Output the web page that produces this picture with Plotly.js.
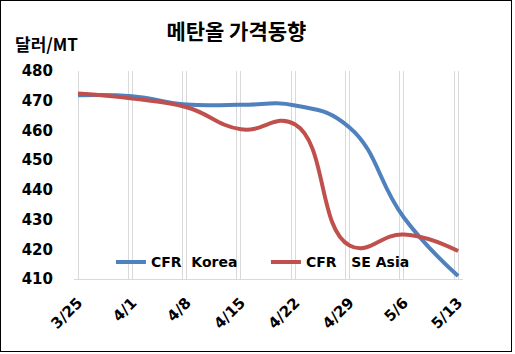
<!DOCTYPE html>
<html>
<head>
<meta charset="utf-8">
<script src="https://cdn.plot.ly/plotly-3.0.1.min.js"></script>
<style>
html,body{margin:0;padding:0;background:#fff;}
#wrap{position:relative;width:515px;height:354px;}
#chart{width:515px;height:354px;}
#frame{position:absolute;left:0;top:0;width:510px;height:350px;border:1.5px solid #000;pointer-events:none;}
</style>
</head>
<body>
<div id="wrap"><div id="chart"></div><div id="frame"></div></div>
<script>
const categories = ["3/25", "4/1", "4/8", "4/15", "4/22", "4/29", "5/6", "5/13"];
const korea = [471.8, 471.5, 468.7, 468.6, 468.4, 461, 430.7, 411];
const seAsia = [472.4, 470.7, 467.8, 460.4, 462, 421.3, 425, 419.4];
const seriesNames = ["CFR  Korea", "CFR   SE Asia"];
const yTicks = [410, 420, 430, 440, 450, 460, 470, 480];

const KFONT = '"Noto Sans CJK KR", "Noto Sans", sans-serif';
const LFONT = '"DejaVu Sans", "Noto Sans CJK KR", sans-serif';
const xs = categories.map((c, i) => i);

const traces = [
  {x: xs, y: korea, name: seriesNames[0], mode: 'lines', type: 'scatter',
   line: {color: '#4F81BD', width: 4, shape: 'spline', smoothing: 1.3}},
  {x: xs, y: seAsia, name: seriesNames[1], mode: 'lines', type: 'scatter',
   line: {color: '#C0504D', width: 4, shape: 'spline', smoothing: 1.3}}
];

const layout = {
  width: 515, height: 354,
  margin: {l: 74, r: 52, t: 71, b: 75},
  paper_bgcolor: '#fff', plot_bgcolor: '#fff',
  font: {family: LFONT, color: '#000', size: 14, weight: 'bold'},
  title: {text: '메탄올 가격동향', font: {family: KFONT, size: 21, weight: 'bold', color: '#000'},
          xref: 'container', x: 0.459, xanchor: 'center', yref: 'container', y: 1 - 32/354, yanchor: 'middle'},
  xaxis: {
    range: [-0.0737, 7.09],
    tickvals: xs, ticktext: categories, tickangle: -45,
    tickfont: {family: LFONT, size: 15, weight: 'bold'},
    showgrid: true, gridcolor: '#D9D9D9', gridwidth: 1,
    minor: {tickvals: xs.map(v => v - 0.0735), showgrid: true, gridcolor: '#D9D9D9', gridwidth: 1, ticks: ''},
    showline: true, linecolor: '#D9D9D9', linewidth: 1,
    zeroline: false, ticks: '', ticklabelstandoff: 8, fixedrange: true
  },
  yaxis: {
    range: [410, 480], tickvals: yTicks,
    tickfont: {family: LFONT, size: 15, weight: 'bold'},
    showgrid: false, zeroline: false, showline: false, ticks: '',
    ticklabelstandoff: 20, fixedrange: true
  },
  showlegend: true,
  legend: {orientation: 'h', x: 0.095, xanchor: 'left', y: 0.08, yanchor: 'middle',
           bgcolor: 'rgba(0,0,0,0)', font: {family: LFONT, size: 14, weight: 'bold'},
           entrywidth: 110, entrywidthmode: 'pixels', itemwidth: 30},
  annotations: [
    {text: '달러/MT', xref: 'paper', yref: 'paper', x: (13 - 74) / 389, y: (279 - 43) / 208,
     xanchor: 'left', yanchor: 'middle', showarrow: false,
     font: {family: KFONT, size: 17, weight: 'bold', color: '#000'}}
  ]
};

Plotly.newPlot('chart', traces, layout, {displayModeBar: false, staticPlot: true});
</script>
</body>
</html>
